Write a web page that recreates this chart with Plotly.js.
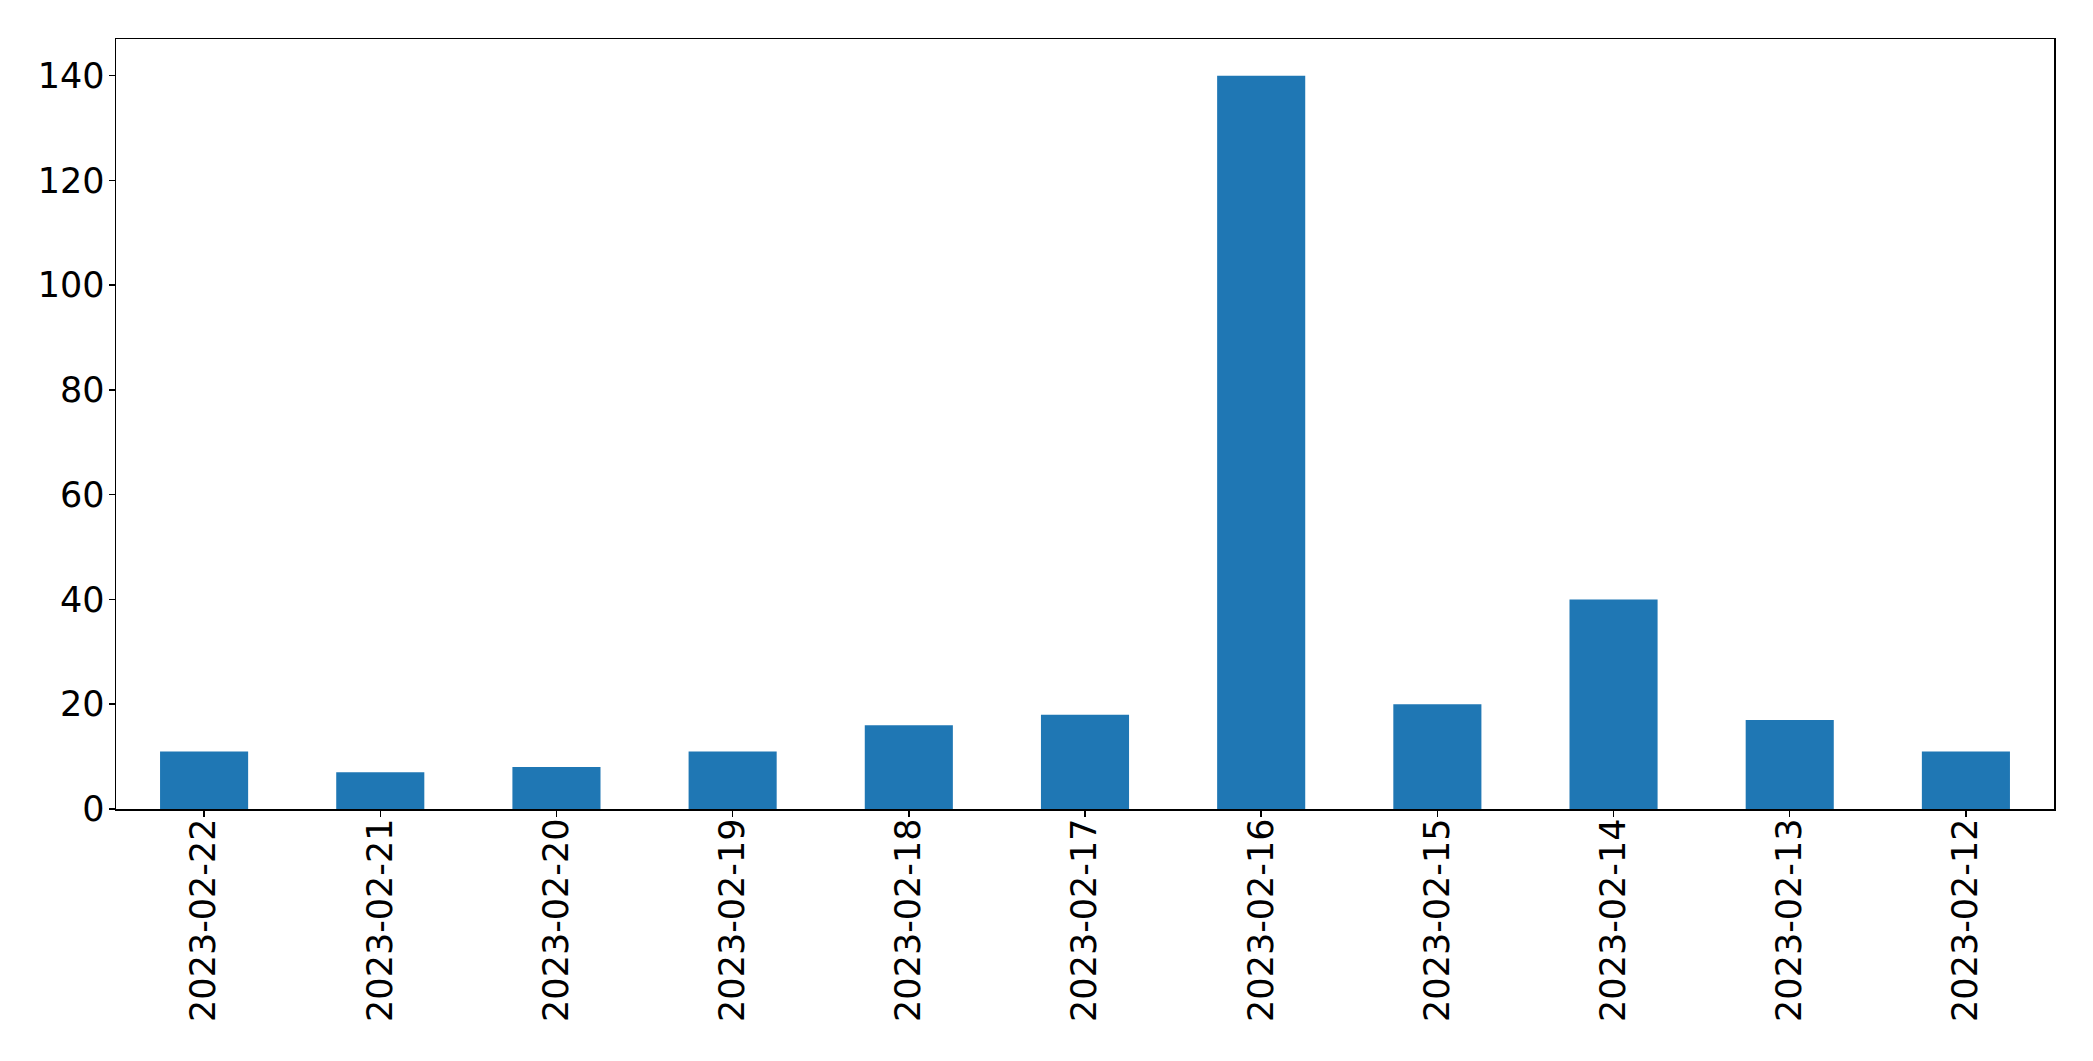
<!DOCTYPE html>
<html>
<head>
<meta charset="utf-8">
<script src="https://cdn.plot.ly/plotly-3.0.1.min.js"></script>
<style>html,body{margin:0;padding:0;background:#fff;}#chart{width:2093px;height:1061px;}</style>
</head>
<body>
<div id="chart"></div>
<script>
const dates = ["2023-02-22","2023-02-21","2023-02-20","2023-02-19","2023-02-18","2023-02-17","2023-02-16","2023-02-15","2023-02-14","2023-02-13","2023-02-12"];
const counts = [11, 7, 8, 11, 16, 18, 140, 20, 40, 17, 11];
const yTicks = [0, 20, 40, 60, 80, 100, 120, 140];

const trace = {
  type: 'bar',
  x: dates,
  y: counts,
  width: 0.5,
  marker: {color: '#1f77b4', line: {width: 0}},
  hoverinfo: 'x+y'
};
const layout = {
  width: 2093, height: 1061,
  margin: {l: 116, r: 39, t: 39, b: 252, pad: 0},
  paper_bgcolor: '#fff', plot_bgcolor: '#fff',
  showlegend: false,
  font: {family: 'DejaVu Sans', color: '#000', size: 35},
  xaxis: {
    type: 'category',
    range: [-0.5, 10.5],
    tickangle: -90,
    showline: true, mirror: true, linecolor: '#000', linewidth: 1.5,
    ticks: 'outside', ticklen: 6, tickwidth: 1.5, tickcolor: '#000',
    ticklabelstandoff: -12,
    showgrid: false, zeroline: false,
    tickfont: {family: 'DejaVu Sans', size: 35, color: '#000'}
  },
  yaxis: {
    range: [0, 147],
    tickvals: yTicks,
    showline: true, mirror: true, linecolor: '#000', linewidth: 1.5,
    ticks: 'outside', ticklen: 6, tickwidth: 1.5, tickcolor: '#000',
    ticklabelstandoff: -3,
    showgrid: false, zeroline: false,
    tickfont: {family: 'DejaVu Sans', size: 35, color: '#000'}
  }
};
Plotly.newPlot('chart', [trace], layout, {displayModeBar: false, staticPlot: true});
</script>
</body>
</html>
